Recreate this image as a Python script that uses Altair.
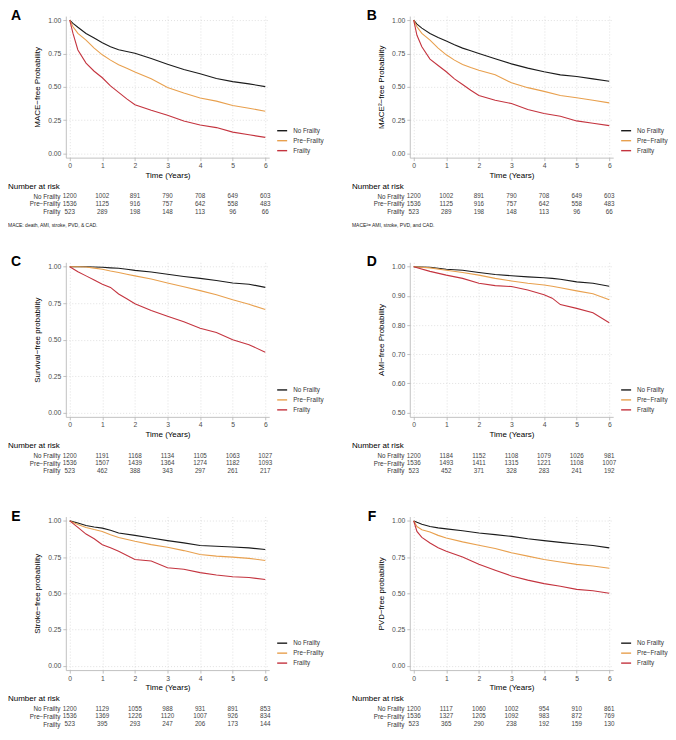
import altair as alt
import pandas as pd

FONT = "Liberation Sans"
GROUPS = ["No Frailty", "Pre−Frailty", "Frailty"]
COLORS = ["#1b1b1b", "#E8A04E", "#C4343F"]
RISK_TIMES = [0, 1, 2, 3, 4, 5, 6]
W = 204

# ---------------- Panel A: MACE ----------------
a_times = [0, 0.1, 0.25, 0.5, 0.75, 1, 1.25, 1.5, 1.75, 2, 2.5, 3, 3.5, 4, 4.5, 5, 5.5, 6]
a_nf = [1, 0.975, 0.946, 0.90, 0.866, 0.83, 0.80, 0.778, 0.765, 0.751, 0.712, 0.67, 0.63, 0.598, 0.563, 0.539, 0.522, 0.502]
a_pf = [1, 0.95, 0.90, 0.85, 0.79, 0.74, 0.70, 0.666, 0.64, 0.612, 0.56, 0.495, 0.454, 0.417, 0.393, 0.36, 0.34, 0.317]
a_fr = [1, 0.90, 0.776, 0.678, 0.617, 0.568, 0.507, 0.459, 0.41, 0.366, 0.325, 0.288, 0.244, 0.215, 0.195, 0.161, 0.141, 0.122]
a_risk_nf = [1200, 1002, 891, 790, 708, 649, 603]
a_risk_pf = [1536, 1125, 916, 757, 642, 558, 483]
a_risk_fr = [523, 289, 198, 148, 113, 96, 66]

# ---------------- Panel B: MACE2 ----------------
b_times = [0, 0.1, 0.25, 0.5, 0.75, 1, 1.25, 1.5, 1.75, 2, 2.5, 3, 3.5, 4, 4.5, 5, 5.5, 6]
b_nf = [1, 0.97, 0.94, 0.90, 0.87, 0.843, 0.815, 0.79, 0.77, 0.75, 0.71, 0.672, 0.64, 0.613, 0.59, 0.577, 0.56, 0.542]
b_pf = [1, 0.95, 0.90, 0.85, 0.79, 0.74, 0.70, 0.667, 0.645, 0.625, 0.59, 0.53, 0.494, 0.466, 0.435, 0.418, 0.40, 0.38]
b_fr = [1, 0.886, 0.80, 0.708, 0.66, 0.613, 0.56, 0.518, 0.475, 0.435, 0.40, 0.375, 0.33, 0.30, 0.28, 0.245, 0.228, 0.21]
b_risk_nf = [1200, 1002, 891, 790, 708, 649, 603]
b_risk_pf = [1536, 1125, 916, 757, 642, 558, 483]
b_risk_fr = [523, 289, 198, 148, 113, 96, 66]

# ---------------- Panel C: Survival ----------------
c_times = [0, 0.25, 0.5, 0.75, 1, 1.25, 1.5, 1.75, 2, 2.5, 3, 3.5, 4, 4.5, 5, 5.5, 6]
c_nf = [1, 1, 1, 0.998, 0.996, 0.992, 0.989, 0.982, 0.975, 0.964, 0.948, 0.933, 0.92, 0.905, 0.888, 0.88, 0.858]
c_pf = [1, 1, 0.998, 0.99, 0.982, 0.97, 0.96, 0.948, 0.937, 0.915, 0.888, 0.863, 0.836, 0.807, 0.773, 0.742, 0.706]
c_fr = [1, 0.966, 0.937, 0.908, 0.88, 0.858, 0.813, 0.78, 0.746, 0.70, 0.66, 0.622, 0.578, 0.548, 0.499, 0.465, 0.413]
c_risk_nf = [1200, 1191, 1168, 1134, 1105, 1063, 1027]
c_risk_pf = [1536, 1507, 1439, 1364, 1274, 1182, 1093]
c_risk_fr = [523, 462, 388, 343, 297, 261, 217]

# ---------------- Panel D: AMI ----------------
d_times = [0, 0.5, 1, 1.5, 2, 2.5, 3, 3.5, 4, 4.25, 4.5, 5, 5.5, 6]
d_nf = [1, 0.998, 0.991, 0.988, 0.98, 0.973, 0.969, 0.965, 0.962, 0.96, 0.957, 0.948, 0.943, 0.933]
d_pf = [1, 0.996, 0.988, 0.98, 0.971, 0.96, 0.951, 0.943, 0.937, 0.933, 0.928, 0.917, 0.907, 0.887]
d_fr = [1, 0.984, 0.971, 0.96, 0.943, 0.935, 0.932, 0.92, 0.904, 0.892, 0.87, 0.857, 0.842, 0.808]
d_risk_nf = [1200, 1184, 1152, 1108, 1079, 1026, 981]
d_risk_pf = [1536, 1493, 1411, 1315, 1221, 1108, 1007]
d_risk_fr = [523, 452, 371, 328, 283, 241, 192]

# ---------------- Panel E: Stroke ----------------
e_times = [0, 0.25, 0.5, 0.75, 1, 1.25, 1.5, 2, 2.5, 3, 3.5, 4, 4.5, 5, 5.5, 6]
e_nf = [1, 0.985, 0.968, 0.958, 0.95, 0.935, 0.916, 0.90, 0.882, 0.864, 0.848, 0.83, 0.825, 0.82, 0.814, 0.802]
e_pf = [1, 0.975, 0.955, 0.94, 0.927, 0.905, 0.886, 0.859, 0.836, 0.818, 0.795, 0.768, 0.757, 0.75, 0.741, 0.727]
e_fr = [1, 0.955, 0.909, 0.877, 0.836, 0.814, 0.79, 0.734, 0.723, 0.677, 0.666, 0.643, 0.627, 0.614, 0.609, 0.595]
e_risk_nf = [1200, 1129, 1055, 988, 931, 891, 853]
e_risk_pf = [1536, 1369, 1226, 1120, 1007, 926, 834]
e_risk_fr = [523, 395, 293, 247, 206, 173, 144]

# ---------------- Panel F: PVD ----------------
f_times = [0, 0.1, 0.25, 0.5, 0.75, 1, 1.5, 2, 2.5, 3, 3.5, 4, 4.5, 5, 5.5, 6]
f_nf = [1, 0.99, 0.977, 0.961, 0.952, 0.945, 0.932, 0.916, 0.905, 0.893, 0.877, 0.864, 0.852, 0.841, 0.83, 0.814]
f_pf = [1, 0.961, 0.939, 0.923, 0.90, 0.882, 0.855, 0.832, 0.809, 0.78, 0.757, 0.734, 0.716, 0.70, 0.689, 0.673]
f_fr = [1, 0.927, 0.886, 0.848, 0.814, 0.791, 0.75, 0.70, 0.659, 0.62, 0.591, 0.567, 0.549, 0.527, 0.518, 0.50]
f_risk_nf = [1200, 1117, 1060, 1002, 954, 910, 861]
f_risk_pf = [1536, 1327, 1205, 1092, 983, 872, 769]
f_risk_fr = [523, 365, 290, 238, 192, 159, 130]

Y_TICKS_STD = [0, 0.25, 0.5, 0.75, 1.0]
Y_TICKS_AMI = [0.5, 0.6, 0.7, 0.8, 0.9, 1.0]

XSCALE = alt.Scale(domain=[-0.12, 6.12], nice=False, zero=False)


def curve_chart(letter, letter_x, ytitle, times, nf, pf, fr, ydom, yticks, H):
    rows = []
    for g, vals in zip(GROUPS, (nf, pf, fr)):
        for t, v in zip(times, vals):
            rows.append({"time": t, "surv": v, "group": g})
    df = pd.DataFrame(rows)
    lines = alt.Chart(df).mark_line(strokeWidth=1.1).encode(
        x=alt.X("time:Q", scale=XSCALE,
                axis=alt.Axis(values=RISK_TIMES, format="d", title="Time (Years)", titlePadding=2)),
        y=alt.Y("surv:Q", scale=alt.Scale(domain=ydom, nice=False, zero=False),
                axis=alt.Axis(values=yticks, format=".2f", title=ytitle, titlePadding=6)),
        color=alt.Color("group:N", scale=alt.Scale(domain=GROUPS, range=COLORS),
                        legend=alt.Legend(title=None, orient="none", legendX=W + 7, legendY=H - 33,
                                          symbolType="stroke", symbolSize=100, symbolStrokeWidth=1.4,
                                          rowPadding=0, labelFontSize=6.3, labelColor="#333333",
                                          labelOffset=5, padding=0, labelFont=FONT)),
    )
    lab = alt.Chart(pd.DataFrame({"label": [letter]})).mark_text(
        font=FONT, fontSize=14, fontWeight="bold", align="center", baseline="middle", color="black"
    ).encode(text="label:N", x=alt.value(letter_x), y=alt.value(0))
    return alt.layer(lines, lab).properties(width=W, height=H)


def risk_chart(nf, pf, fr, caption=None, TH=23):
    rows = []
    for g, vals in zip(GROUPS, (nf, pf, fr)):
        for t, n in zip(RISK_TIMES, vals):
            rows.append({"time": t, "group": g, "n": str(n)})
    df = pd.DataFrame(rows)
    txt = alt.Chart(df).mark_text(font=FONT, fontSize=6.3, color="#444444", baseline="middle",
                                  align="center").encode(
        x=alt.X("time:Q", scale=XSCALE, axis=None),
        y=alt.Y("group:N", sort=GROUPS, scale=alt.Scale(paddingInner=0, paddingOuter=0),
                axis=alt.Axis(title=None, domain=False, ticks=False, grid=False, labelPadding=6,
                              labelFontSize=6.3, labelColor="#333333")),
        text="n:N",
    )
    layers = [txt]
    if caption:
        cap = alt.Chart(pd.DataFrame({"c": [caption]})).mark_text(
            font=FONT, fontSize=5, align="left", baseline="middle", color="#222222"
        ).encode(text="c:N", x=alt.value(-58), y=alt.value(TH + 10))
        layers.append(cap)
    return alt.layer(*layers).properties(
        width=W, height=TH,
        title=alt.TitleParams("Number at risk", anchor="start", frame="group", dx=-58, fontSize=8,
                              fontWeight="normal", font=FONT, offset=2, color="black"),
    )


def panel(curve, table):
    return alt.vconcat(curve, table, spacing=3).resolve_scale(
        x="independent", y="independent", color="independent").resolve_legend(color="independent")


def row(p1, p2):
    return alt.hconcat(p1, p2, spacing=28).resolve_scale(
        x="independent", y="independent", color="independent").resolve_legend(color="independent")


pA = panel(curve_chart("A", -50, "MACE−free Probability", a_times, a_nf, a_pf, a_fr,
                       [-0.03, 1.03], Y_TICKS_STD, 142),
           risk_chart(a_risk_nf, a_risk_pf, a_risk_fr, caption="MACE: death, AMI, stroke, PVD, & CAD."))
pB = panel(curve_chart("B", -38, "MACE²−free Probability", b_times, b_nf, b_pf, b_fr,
                       [-0.03, 1.03], Y_TICKS_STD, 142),
           risk_chart(b_risk_nf, b_risk_pf, b_risk_fr, caption="MACE²= AMI, stroke, PVD, and CAD."))
pC = panel(curve_chart("C", -50, "Survival−free probability", c_times, c_nf, c_pf, c_fr,
                       [-0.03, 1.03], Y_TICKS_STD, 155),
           risk_chart(c_risk_nf, c_risk_pf, c_risk_fr))
pD = panel(curve_chart("D", -38, "AMI−free Probability", d_times, d_nf, d_pf, d_fr,
                       [0.485, 1.015], Y_TICKS_AMI, 155),
           risk_chart(d_risk_nf, d_risk_pf, d_risk_fr))
pE = panel(curve_chart("E", -50, "Stroke−free probability", e_times, e_nf, e_pf, e_fr,
                       [-0.03, 1.03], Y_TICKS_STD, 154),
           risk_chart(e_risk_nf, e_risk_pf, e_risk_fr))
pF = panel(curve_chart("F", -38, "PVD−free probability", f_times, f_nf, f_pf, f_fr,
                       [-0.03, 1.03], Y_TICKS_STD, 154),
           risk_chart(f_risk_nf, f_risk_pf, f_risk_fr))

lower = alt.vconcat(row(pC, pD), row(pE, pF), spacing=35).resolve_scale(
    x="independent", y="independent", color="independent").resolve_legend(color="independent")

chart = alt.vconcat(row(pA, pB), lower, spacing=27).resolve_scale(
    x="independent", y="independent", color="independent").resolve_legend(color="independent").properties(
    padding=0
).configure(font=FONT).configure_view(stroke=None).configure_axis(
    labelFont=FONT, titleFont=FONT, labelFontSize=6.8, titleFontSize=8, titleFontWeight="normal",
    labelColor="#4d4d4d", titleColor="black", domainColor="#b3b3b3", tickColor="#b3b3b3",
    tickSize=3, labelPadding=2, gridColor="#d4d4d4", gridDash=[1, 2], gridWidth=0.7,
    domainWidth=0.8, tickWidth=0.8
)

chart.save("out.html", embed_options={"renderer": "svg", "actions": False})
